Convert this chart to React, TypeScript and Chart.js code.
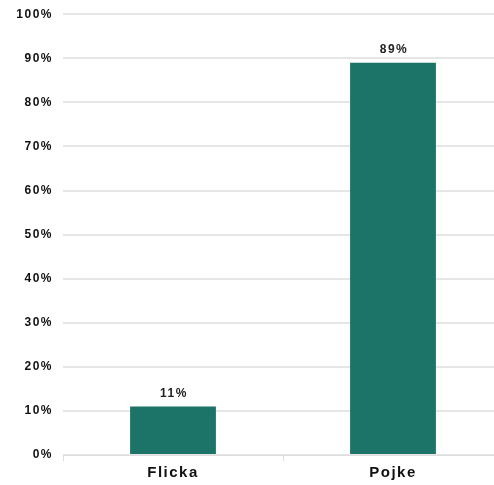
import React, { useEffect, useRef } from 'react';
import { Chart, registerables } from 'chart.js';

Chart.register(...registerables);

const categories = ['Flicka', 'Pojke'];
const values = [11, 89];
const yTicks = [0, 10, 20, 30, 40, 50, 60, 70, 80, 90, 100];

const barColor = '#1c7367';
const fontFamily = '"Liberation Sans", Arial, sans-serif';

const valueLabels = {
    id: 'valueLabels',
    afterDatasetsDraw(chart: Chart) {
        const ctx = chart.ctx;
        const meta = chart.getDatasetMeta(0);
        ctx.save();
        (ctx as any).letterSpacing = '1.5px';
        ctx.font = `bold 12px ${fontFamily}`;
        ctx.fillStyle = '#222';
        ctx.textAlign = 'center';
        ctx.textBaseline = 'bottom';
        meta.data.forEach((bar: any, i: number) => {
            ctx.fillText(values[i] + '%', bar.x + 1, bar.y - 7);
        });
        ctx.restore();
    },
};

const spacing = {
    id: 'spacing',
    beforeDraw(chart: Chart) {
        (chart.ctx as any).letterSpacing = '1.5px';
    },
};

const App: React.FC = () => {
    const canvasRef = useRef<HTMLCanvasElement>(null);
    const chartRef = useRef<Chart | null>(null);

    useEffect(() => {
        document.body.style.margin = '0';
        if (!canvasRef.current) return;
        chartRef.current?.destroy();

        chartRef.current = new Chart(canvasRef.current, {
            type: 'bar',
            data: {
                labels: categories,
                datasets: [{
                    data: values,
                    backgroundColor: barColor,
                    barPercentage: 0.39,
                    categoryPercentage: 1,
                }],
            },
            options: {
                responsive: false,
                animation: false,
                layout: { padding: { top: 7, right: 7, left: 0, bottom: 0 } },
                plugins: { legend: { display: false }, tooltip: { enabled: false } },
                scales: {
                    x: {
                        grid: { drawOnChartArea: false, tickLength: 6, color: '#dddddd' },
                        border: { color: '#dddddd' },
                        ticks: { color: '#111', font: { family: fontFamily, size: 15, weight: 'bold' }, padding: 3 },
                        afterFit: (s: any) => { s.height = 30; },
                    },
                    y: {
                        min: 0,
                        max: 100,
                        afterBuildTicks: (s: any) => { s.ticks = yTicks.map(v => ({ value: v })); },
                        grid: { color: '#e6e6e6', lineWidth: 2, drawTicks: false },
                        border: { display: false },
                        ticks: {
                            color: '#111',
                            padding: 10,
                            font: { family: fontFamily, size: 12, weight: 'bold' },
                            callback: (v: any) => v + '%',
                        },
                        afterFit: (s: any) => { s.width = 63; },
                    },
                },
            },
            plugins: [spacing, valueLabels],
        });

        return () => {
            chartRef.current?.destroy();
            chartRef.current = null;
        };
    }, []);

    return (
        <div style={{ width: 494, height: 485, overflow: 'hidden', position: 'relative' }}>
            <canvas ref={canvasRef} width={510} height={488} style={{ position: 'absolute', left: 0, top: -3 }} />
        </div>
    );
};

export default App;
